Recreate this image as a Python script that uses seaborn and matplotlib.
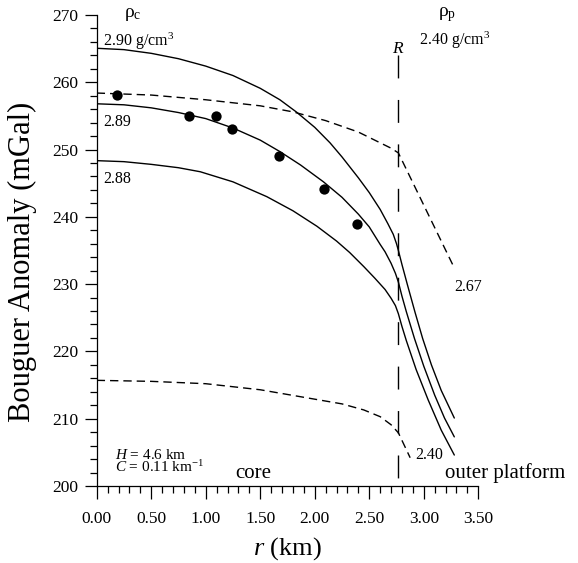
import matplotlib
matplotlib.use("Agg")
import matplotlib.pyplot as plt
import seaborn as sns
import numpy as np

# ---------------- data ----------------
r_290 = [0.00, 0.25, 0.50, 0.75, 1.00, 1.25, 1.50, 1.68, 1.83, 2.00, 2.14, 2.25, 2.40,
         2.50, 2.60, 2.67, 2.72, 2.75, 2.767, 2.80, 2.85, 2.92, 2.99, 3.07, 3.16, 3.28]
g_290 = [265.05, 264.85, 264.3, 263.5, 262.4, 261.0, 259.1, 257.4, 255.6, 253.3, 251.0,
         248.9, 245.8, 243.6, 241.1, 239.0, 237.4, 236.0, 235.0, 232.9, 229.9, 225.8,
         221.9, 218.0, 214.2, 210.1]

r_289 = [0.00, 0.25, 0.50, 0.75, 1.00, 1.25, 1.50, 1.68, 1.87, 2.08, 2.25, 2.40, 2.50,
         2.60, 2.645, 2.70, 2.74, 2.767, 2.80, 2.84, 2.915, 3.00, 3.10, 3.19, 3.28]
g_289 = [256.8, 256.65, 256.2, 255.5, 254.6, 253.2, 251.4, 249.7, 247.7, 245.2, 242.9,
         240.4, 238.5, 235.9, 234.8, 233.1, 231.6, 230.3, 228.2, 225.9, 221.9, 217.8,
         213.5, 210.1, 207.3]

r_288 = [0.00, 0.25, 0.50, 0.75, 0.95, 1.25, 1.56, 1.80, 2.02, 2.20, 2.32, 2.45, 2.55,
         2.645, 2.70, 2.74, 2.767, 2.80, 2.84, 2.93, 3.04, 3.16, 3.28]
g_288 = [248.35, 248.2, 247.8, 247.3, 246.7, 245.2, 243.0, 240.9, 238.6, 236.4, 234.7,
         232.6, 230.9, 229.2, 227.9, 226.8, 225.6, 223.7, 221.6, 217.3, 212.8, 208.3,
         204.6]

r_p267 = [0.00, 0.50, 1.00, 1.50, 1.80, 2.10, 2.40, 2.60, 2.70, 2.767, 3.28]
g_p267 = [258.4, 258.1, 257.4, 256.5, 255.6, 254.3, 252.6, 251.0, 250.2, 249.5, 232.4]

r_p240 = [0.00, 0.50, 1.00, 1.50, 2.00, 2.25, 2.45, 2.60, 2.70, 2.767, 2.875]
g_p240 = [215.7, 215.55, 215.2, 214.3, 212.9, 212.2, 211.3, 210.3, 209.1, 207.9, 204.2]

obs_r = [0.19, 0.846, 1.097, 1.243, 1.674, 2.085, 2.385]
obs_g = [258.1, 255.05, 255.05, 253.05, 249.1, 244.1, 239.0]

R_boundary = 2.767
x_ticks = [0.00, 0.50, 1.00, 1.50, 2.00, 2.50, 3.00, 3.50]
y_ticks = [200, 210, 220, 230, 240, 250, 260, 270]

# ---------------- style ----------------
sns.set_theme(style="ticks")
plt.rcParams["font.family"] = ["Liberation Serif", "DejaVu Serif"]
plt.rcParams["mathtext.fontset"] = "custom"
plt.rcParams["mathtext.rm"] = "Liberation Serif"
plt.rcParams["mathtext.it"] = "Liberation Serif:italic"
plt.rcParams["mathtext.bf"] = "Liberation Serif:bold"
plt.rcParams["lines.scale_dashes"] = False
plt.rcParams["text.color"] = "black"
plt.rcParams["axes.labelcolor"] = "black"
plt.rcParams["xtick.color"] = "black"
plt.rcParams["ytick.color"] = "black"

fig = plt.figure(figsize=(5.78, 5.63), dpi=100)
ax = fig.add_axes([0.1673, 0.1368, 0.8275 - 0.1673, 0.9734 - 0.1368])

lw = 1.0
for rr, gg in [(r_290, g_290), (r_289, g_289), (r_288, g_288)]:
    sns.lineplot(x=rr, y=gg, ax=ax, color="black", linewidth=lw, sort=False,
                 estimator=None)
for rr, gg in [(r_p267, g_p267), (r_p240, g_p240)]:
    sns.lineplot(x=rr, y=gg, ax=ax, color="black", linewidth=lw, sort=False,
                 estimator=None, linestyle=(0, (6, 3.6)))

sns.scatterplot(x=obs_r, y=obs_g, ax=ax, color="black", s=55, edgecolor="black",
                linewidth=0, zorder=5)

ax.vlines(R_boundary, 264.05, 200.7, colors="black", linewidth=lw,
          linestyles=[(0, (16.5, 15.5))])

ax.set_xlim(0, 3.5)
ax.set_ylim(200, 270)
ax.set_xticks(x_ticks)
ax.set_xticklabels([f"{v:.2f}" for v in x_ticks])
ax.set_yticks(y_ticks)
ax.set_yticklabels([str(v) for v in y_ticks])
ax.set_xticks(np.arange(0, 3.5001, 0.1), minor=True)
ax.set_yticks(np.arange(200, 270.001, 2), minor=True)
ax.tick_params(which="major", direction="out", length=9, width=0.9, labelsize=12.5,
               colors="black")
ax.tick_params(which="minor", direction="out", length=5, width=0.9, colors="black")
ax.tick_params(axis="x", which="major", pad=9)
ax.tick_params(axis="y", which="major", pad=4)
for s in ["top", "right"]:
    ax.spines[s].set_visible(False)
for s in ["left", "bottom"]:
    ax.spines[s].set_linewidth(0.9)
    ax.spines[s].set_color("black")
ax.set_facecolor("white")

ax.set_xlabel("$r$ (km)", fontsize=19, labelpad=6, color="black")
ax.set_ylabel("Bouguer Anomaly (mGal)", fontsize=22, color="black")
ax.yaxis.set_label_coords(-0.156, 0.4766)

# annotations
tk = dict(color="black", fontsize=11.5)
ax.text(0.333, 270.0, "ρ$_\\mathrm{c}$", ha="center", va="center", fontsize=14,
        clip_on=False, color="black")
ax.text(0.059, 265.4, "2.90 g/cm$^3$", ha="left", va="baseline", **tk)
ax.text(0.059, 254.1, "2.89", ha="left", va="center", **tk)
ax.text(0.059, 245.6, "2.88", ha="left", va="center", **tk)
ax.text(3.21, 270.0, "ρ$_\\mathrm{p}$", ha="center", va="center", fontsize=14,
        clip_on=False, color="black")
ax.text(2.958, 265.5, "2.40 g/cm$^3$", ha="left", va="baseline", **tk)
ax.text(R_boundary, 264.4, "$R$", ha="center", va="baseline", fontsize=12.5,
        color="black")
ax.text(3.41, 229.5, "2.67", ha="center", va="center", **tk)
ax.text(2.92, 204.6, "2.40", ha="left", va="center", **tk)
ax.text(0.17, 203.6, "$H$ = 4.6 km\n$C$ = 0.11 km$^{-1}$", ha="left", va="center",
        fontsize=11, linespacing=0.8, color="black")
ax.text(1.44, 201.9, "core", ha="center", va="center", fontsize=15, color="black")
ax.text(3.745, 201.9, "outer platform", ha="center", va="center", fontsize=15,
        clip_on=False, color="black")

fig.savefig("out.png", dpi=100, facecolor="white")
